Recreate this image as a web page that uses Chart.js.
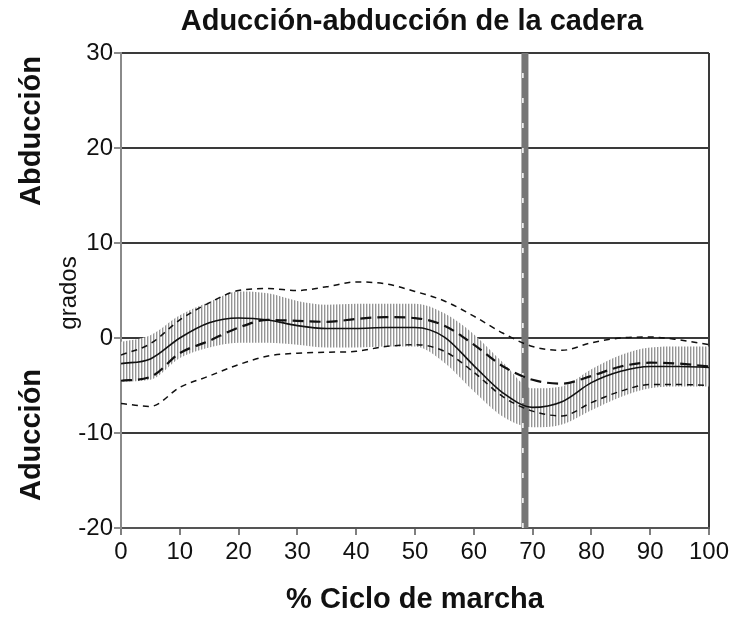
<!DOCTYPE html>
<html>
<head>
<meta charset="utf-8">
<script src="https://cdn.jsdelivr.net/npm/chart.js@4.4.1/dist/chart.umd.min.js"></script>
<style>
  html, body { margin:0; padding:0; background:#fff; }
</style>
</head>
<body>
<canvas id="grafico" width="732" height="619"></canvas>
<script>
// Datos (grados vs % del ciclo)
const ciclo     = [0, 5, 10, 15, 20, 25, 30, 35, 40, 45, 50, 55, 60, 65, 70, 75, 80, 85, 90, 95, 100];
const media     = [-2.7, -2.2, 0.0, 1.6, 2.1, 1.9, 1.3, 1.0, 1.0, 1.1, 1.1, 0.1, -2.9, -5.8, -7.3, -6.7, -4.7, -3.5, -3.0, -3.0, -3.1];
const mediaPac  = [-4.5, -4.1, -1.6, -0.3, 1.1, 1.9, 1.8, 1.7, 2.0, 2.2, 2.1, 1.3, -0.7, -3.0, -4.4, -4.8, -4.0, -3.0, -2.6, -2.7, -3.0];
const limSup    = [-1.8, -0.6, 1.9, 3.7, 5.0, 5.2, 5.0, 5.4, 5.9, 5.7, 4.9, 3.9, 2.3, 0.5, -0.9, -1.3, -0.5, 0.0, 0.1, -0.2, -0.7];
const limInf    = [-6.9, -7.2, -5.2, -4.0, -2.8, -1.9, -1.6, -1.5, -1.4, -0.9, -0.7, -1.4, -3.6, -6.2, -7.7, -8.2, -6.8, -5.6, -4.9, -4.9, -5.0];
const bandaSup  = [-0.4, 0.3, 2.4, 3.8, 4.9, 4.7, 3.9, 3.5, 3.6, 3.6, 3.6, 2.6, 0.4, -2.6, -5.3, -5.1, -3.3, -1.8, -1.0, -0.9, -0.9];
const bandaInf  = [-4.6, -4.4, -2.1, -1.0, -0.5, -0.5, -0.7, -1.0, -1.0, -0.9, -0.9, -2.6, -5.6, -8.3, -9.4, -9.1, -7.6, -6.2, -5.3, -5.1, -5.1];
const despegue  = 68.7;          // inicio de la fase de oscilación
const rangoY    = [-20, 30];
const rangoX    = [0, 100];

const titulo = 'Aducción-abducción de la cadera';
const tituloX = '% Ciclo de marcha';

const fuente = '"Liberation Sans", Arial, sans-serif';
const fuenteNum = '"Liberation Sans Narrow", "Arial Narrow", "Liberation Sans", Arial, sans-serif';

const pts = arr => ciclo.map((x, i) => ({x, y: arr[i]}));

// Rayado vertical para la banda gris
const canvas = document.getElementById('grafico');
function rayado() {
  const c = document.createElement('canvas');
  c.width = 3; c.height = 4;
  const g = c.getContext('2d');
  g.fillStyle = '#ffffff'; g.fillRect(0, 0, 3, 4);
  g.fillStyle = '#959595'; g.fillRect(0, 0, 1, 4);
  g.fillStyle = '#d6d6d6'; g.fillRect(1, 0, 1, 4);
  return canvas.getContext('2d').createPattern(c, 'repeat');
}

function vertical(ctx, txt, x, y, font) {
  ctx.save();
  ctx.translate(x, y);
  ctx.rotate(-Math.PI / 2);
  ctx.font = font;
  ctx.fillText(txt, 0, 0);
  ctx.restore();
}

const textos = {
  id: 'textos',
  afterDraw(chart) {
    const ctx = chart.ctx;
    ctx.save();
    ctx.fillStyle = '#111';
    ctx.textAlign = 'center';
    ctx.textBaseline = 'middle';
    ctx.font = 'bold 29px ' + fuente;
    ctx.fillText(titulo, 412, 22);
    vertical(ctx, 'Abducción', 32, 131, 'bold 29px ' + fuente);
    vertical(ctx, 'Aducción', 32, 435, 'bold 29px ' + fuente);
    vertical(ctx, 'grados', 69, 293, '24px ' + fuente);
    ctx.restore();
  }
};

const linea = (data, dash, ancho) => ({
  data: pts(data), borderColor: '#111', borderWidth: ancho, borderDash: dash,
  pointRadius: 0, fill: false, cubicInterpolationMode: 'monotone', order: 1
});

new Chart(canvas, {
  type: 'line',
  data: {
    datasets: [
      linea(media, [], 1.6),
      linea(mediaPac, [11, 6], 2.2),
      linea(limSup, [6, 5], 1.5),
      linea(limInf, [6, 5], 1.5),
      // marcas blancas sobre la línea del despegue
      {data: [{x: despegue - 0.35, y: rangoY[0]}, {x: despegue - 0.35, y: rangoY[1]}],
       borderColor: '#ffffff', borderWidth: 1.5, borderDash: [5, 20], pointRadius: 0, order: 1.5},
      {data: [{x: despegue, y: rangoY[0]}, {x: despegue, y: rangoY[1]}],
       borderColor: '#767676', borderWidth: 7, pointRadius: 0, order: 2},
      {data: pts(bandaSup), borderWidth: 0, pointRadius: 0, fill: '+1',
       backgroundColor: rayado(), cubicInterpolationMode: 'monotone', order: 5},
      {data: pts(bandaInf), borderWidth: 0, pointRadius: 0, fill: false,
       cubicInterpolationMode: 'monotone', order: 6}
    ]
  },
  options: {
    responsive: false,
    animation: false,
    layout: {padding: {top: 53, right: 20, left: 0, bottom: 0}},
    plugins: {legend: {display: false}, tooltip: {enabled: false}},
    scales: {
      x: {
        type: 'linear', min: rangoX[0], max: rangoX[1],
        ticks: {stepSize: 10, color: '#111', padding: 3, maxRotation: 0,
                font: {family: fuenteNum, size: 24}},
        grid: {color: c => c.tick.value === 100 ? '#3a3a3a' : 'rgba(0,0,0,0)',
               lineWidth: 2, tickColor: '#555', tickLength: 7, tickWidth: 1.5},
        border: {color: '#555', width: 2},
        title: {display: true, text: tituloX, color: '#111',
                font: {family: fuente, size: 29, weight: 'bold'}, padding: {top: 0, bottom: 2}},
        afterFit: s => { s.height = 91; }
      },
      y: {
        min: rangoY[0], max: rangoY[1],
        ticks: {stepSize: 10, color: '#111', padding: 1,
                font: {family: fuenteNum, size: 24}},
        grid: {color: '#3a3a3a', lineWidth: 2, tickColor: '#666', tickLength: 7, tickWidth: 1.5},
        border: {color: '#8a8a8a', width: 2},
        afterFit: s => { s.width = 121; }
      }
    }
  },
  plugins: [textos]
});
</script>
</body>
</html>
